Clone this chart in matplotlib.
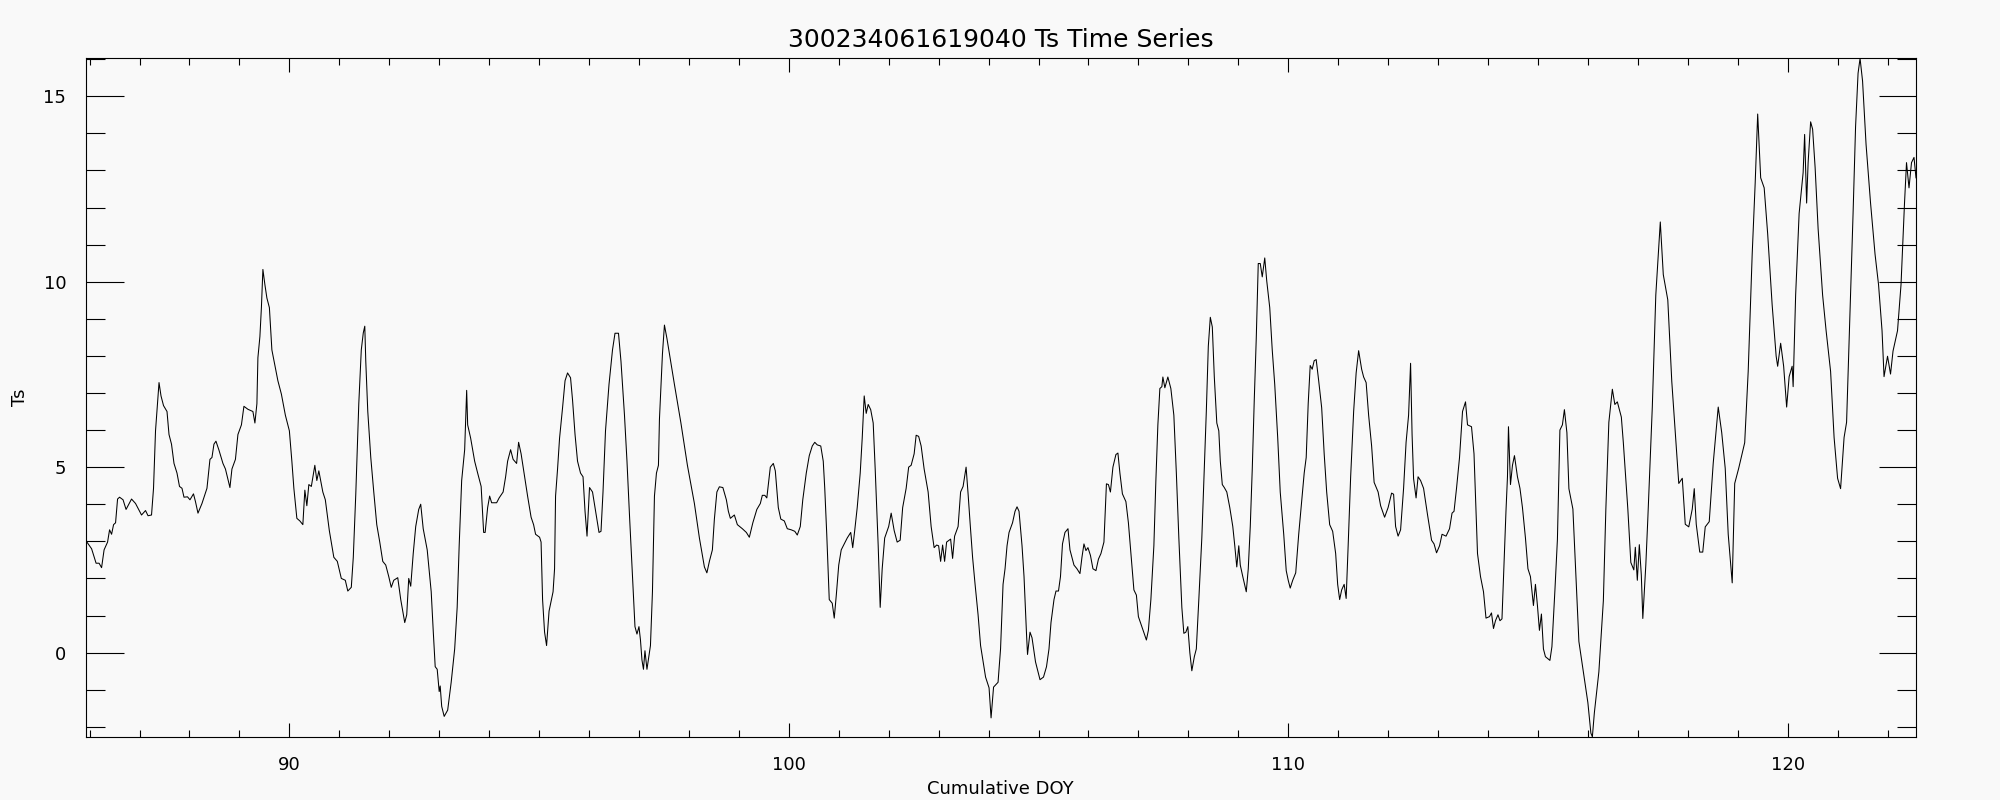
import numpy as np
import matplotlib
matplotlib.use("Agg")
import matplotlib.pyplot as plt
from matplotlib.ticker import MultipleLocator

# Cumulative day of year and Ts
doy = [
    85.92, 86.04, 86.13, 86.19, 86.24, 86.29, 86.36, 86.40, 86.44, 86.48,
    86.52, 86.56, 86.60, 86.67, 86.73, 86.84, 86.92, 87.04, 87.12, 87.17,
    87.24, 87.28, 87.32, 87.36, 87.39, 87.43, 87.48, 87.55, 87.59, 87.64,
    87.69, 87.75, 87.80, 87.85, 87.89, 87.96, 88.01, 88.08, 88.12, 88.17,
    88.25, 88.35, 88.41, 88.45, 88.49, 88.53, 88.59, 88.67, 88.72, 88.81,
    88.85, 88.92, 88.97, 89.04, 89.09, 89.17, 89.27, 89.31, 89.35, 89.37,
    89.41, 89.44, 89.47, 89.51, 89.55, 89.60, 89.65, 89.71, 89.77, 89.84,
    89.92, 90.00, 90.05, 90.09, 90.15, 90.21, 90.27, 90.31, 90.35, 90.39,
    90.44, 90.51, 90.55, 90.59, 90.67, 90.72, 90.80, 90.89, 90.96, 91.04,
    91.12, 91.17, 91.24, 91.28, 91.33, 91.39, 91.44, 91.48, 91.51, 91.53,
    91.57, 91.63, 91.69, 91.75, 91.81, 91.87, 91.93, 91.99, 92.04, 92.09,
    92.17, 92.23, 92.31, 92.35, 92.39, 92.43, 92.48, 92.53, 92.59, 92.63,
    92.68, 92.76, 92.84, 92.88, 92.92, 92.96, 93.00, 93.02, 93.05, 93.10,
    93.17, 93.24, 93.31, 93.36, 93.40, 93.45, 93.51, 93.55, 93.57, 93.63,
    93.71, 93.77, 93.84, 93.89, 93.92, 93.97, 94.01, 94.05, 94.15, 94.20,
    94.28, 94.33, 94.37, 94.43, 94.48, 94.55, 94.59, 94.64, 94.71, 94.77,
    94.84, 94.89, 94.93, 95.01, 95.04, 95.07, 95.11, 95.15, 95.20, 95.28,
    95.31, 95.33, 95.37, 95.41, 95.47, 95.52, 95.57, 95.63, 95.67, 95.72,
    95.77, 95.83, 95.88, 95.92, 95.96, 96.01, 96.07, 96.15, 96.20, 96.24,
    96.28, 96.33, 96.40, 96.47, 96.52, 96.59, 96.64, 96.71, 96.76, 96.81,
    96.87, 96.92, 96.96, 97.00, 97.03, 97.06, 97.09, 97.12, 97.16, 97.23,
    97.27, 97.31, 97.35, 97.39, 97.41, 97.47, 97.51, 97.56, 97.71, 97.84,
    97.97, 98.11, 98.21, 98.31, 98.36, 98.41, 98.47, 98.51, 98.56, 98.61,
    98.68, 98.75, 98.79, 98.83, 98.91, 98.97, 99.07, 99.15, 99.21, 99.28,
    99.36, 99.43, 99.47, 99.52, 99.56, 99.63, 99.69, 99.73, 99.79, 99.84,
    99.91, 99.97, 100.05, 100.12, 100.17, 100.23, 100.28, 100.35, 100.41, 100.47,
    100.52, 100.57, 100.64, 100.69, 100.72, 100.76, 100.81, 100.87, 100.91, 100.95,
    101.00, 101.05, 101.11, 101.17, 101.24, 101.28, 101.32, 101.37, 101.43, 101.47,
    101.51, 101.55, 101.59, 101.64, 101.69, 101.73, 101.79, 101.83, 101.87, 101.92,
    102.00, 102.05, 102.11, 102.17, 102.23, 102.28, 102.35, 102.40, 102.45, 102.51,
    102.55, 102.60, 102.65, 102.71, 102.79, 102.85, 102.91, 102.96, 103.00, 103.04,
    103.08, 103.12, 103.16, 103.21, 103.24, 103.28, 103.32, 103.39, 103.44, 103.49,
    103.55, 103.59, 103.63, 103.68, 103.73, 103.79, 103.84, 103.94, 104.01, 104.05,
    104.10, 104.19, 104.24, 104.29, 104.33, 104.37, 104.41, 104.48, 104.53, 104.57,
    104.61, 104.67, 104.71, 104.76, 104.78, 104.83, 104.87, 104.94, 105.03, 105.10,
    105.16, 105.21, 105.25, 105.31, 105.35, 105.40, 105.44, 105.48, 105.53, 105.59,
    105.63, 105.71, 105.77, 105.83, 105.87, 105.91, 105.95, 105.99, 106.04, 106.09,
    106.15, 106.20, 106.25, 106.31, 106.36, 106.40, 106.44, 106.49, 106.55, 106.59,
    106.63, 106.68, 106.75, 106.80, 106.85, 106.91, 106.96, 107.00, 107.07, 107.12,
    107.16, 107.20, 107.25, 107.31, 107.35, 107.39, 107.43, 107.47, 107.49, 107.53,
    107.59, 107.65, 107.71, 107.76, 107.81, 107.87, 107.91, 107.95, 107.99, 108.03,
    108.07, 108.12, 108.16, 108.21, 108.27, 108.32, 108.36, 108.40, 108.44, 108.48,
    108.52, 108.57, 108.61, 108.64, 108.68, 108.72, 108.77, 108.83, 108.89, 108.93,
    108.97, 109.01, 109.04, 109.09, 109.16, 109.20, 109.24, 109.28, 109.32, 109.36,
    109.40, 109.44, 109.48, 109.53, 109.57, 109.63, 109.68, 109.73, 109.79, 109.84,
    109.91, 109.96, 110.00, 110.04, 110.09, 110.15, 110.21, 110.28, 110.32, 110.36,
    110.40, 110.44, 110.48, 110.52, 110.56, 110.61, 110.67, 110.72, 110.77, 110.83,
    110.89, 110.95, 110.99, 111.03, 111.07, 111.12, 111.16, 111.20, 111.25, 111.31,
    111.36, 111.41, 111.47, 111.51, 111.56, 111.61, 111.67, 111.72, 111.80, 111.85,
    111.93, 112.00, 112.07, 112.11, 112.15, 112.20, 112.25, 112.31, 112.36, 112.41,
    112.45, 112.48, 112.51, 112.56, 112.60, 112.65, 112.71, 112.79, 112.87, 112.92,
    112.97, 113.03, 113.08, 113.16, 113.23, 113.28, 113.32, 113.37, 113.43, 113.49,
    113.55, 113.59, 113.67, 113.72, 113.79, 113.85, 113.91, 113.96, 114.03, 114.07,
    114.11, 114.15, 114.20, 114.24, 114.28, 114.32, 114.36, 114.39, 114.41, 114.44,
    114.45, 114.49, 114.53, 114.59, 114.64, 114.69, 114.75, 114.80, 114.85, 114.91,
    114.95, 114.99, 115.03, 115.07, 115.11, 115.15, 115.24, 115.28, 115.34, 115.39,
    115.44, 115.49, 115.53, 115.58, 115.62, 115.70, 115.82, 115.91, 116.00, 116.06,
    116.09, 116.13, 116.22, 116.31, 116.36, 116.42, 116.49, 116.54, 116.59, 116.67,
    116.71, 116.80, 116.86, 116.92, 116.95, 116.99, 117.03, 117.07, 117.10, 117.16,
    117.20, 117.29, 117.36, 117.45, 117.51, 117.60, 117.68, 117.77, 117.82, 117.89,
    117.95, 118.02, 118.09, 118.13, 118.17, 118.24, 118.30, 118.35, 118.43, 118.51,
    118.61, 118.68, 118.75, 118.81, 118.89, 118.94, 119.02, 119.14, 119.21, 119.29,
    119.35, 119.40, 119.46, 119.53, 119.60, 119.69, 119.77, 119.80, 119.86, 119.92,
    119.98, 120.03, 120.09, 120.11, 120.16, 120.23, 120.31, 120.34, 120.38, 120.41,
    120.46, 120.50, 120.55, 120.61, 120.70, 120.77, 120.86, 120.93, 121.00, 121.06,
    121.13, 121.18, 121.24, 121.31, 121.36, 121.41, 121.45, 121.50, 121.57, 121.66,
    121.75, 121.82, 121.89, 121.93, 122.00, 122.06, 122.11, 122.20, 122.27, 122.34,
    122.38, 122.43, 122.48, 122.53, 122.57,
]

ts = [
    3.03, 2.80, 2.41, 2.41, 2.29, 2.77, 2.98, 3.31, 3.19, 3.45,
    3.50, 4.14, 4.19, 4.12, 3.86, 4.14, 4.02, 3.71, 3.83, 3.69,
    3.71, 4.43, 5.98, 6.71, 7.28, 6.92, 6.66, 6.50, 5.88, 5.62,
    5.10, 4.84, 4.48, 4.43, 4.19, 4.20, 4.12, 4.28, 4.07, 3.76,
    4.02, 4.43, 5.21, 5.26, 5.62, 5.70, 5.46, 5.10, 4.95, 4.45,
    4.95, 5.21, 5.88, 6.14, 6.64, 6.56, 6.50, 6.19, 6.71, 7.95,
    8.52, 9.30, 10.33, 9.92, 9.56, 9.30, 8.16, 7.74, 7.33, 6.97,
    6.40, 5.98, 5.16, 4.43, 3.62, 3.55, 3.45, 4.38, 3.96, 4.53,
    4.48, 5.05, 4.64, 4.90, 4.33, 4.12, 3.29, 2.57, 2.46, 2.00,
    1.95, 1.66, 1.76, 2.57, 4.28, 6.71, 8.16, 8.62, 8.80, 7.85,
    6.50, 5.26, 4.33, 3.45, 2.98, 2.46, 2.36, 2.05, 1.76, 1.95,
    2.02, 1.43, 0.81, 1.02, 2.00, 1.79, 2.67, 3.40, 3.86, 4.00,
    3.34, 2.77, 1.64, 0.60, -0.38, -0.45, -1.05, -0.90, -1.45, -1.72,
    -1.55, -0.80, 0.10, 1.22, 2.88, 4.64, 5.47, 7.07, 6.14, 5.78,
    5.16, 4.84, 4.48, 3.24, 3.24, 3.91, 4.22, 4.04, 4.04, 4.17,
    4.33, 4.74, 5.16, 5.47, 5.21, 5.10, 5.67, 5.36, 4.74, 4.22,
    3.65, 3.45, 3.19, 3.11, 2.98, 1.43, 0.55, 0.19, 1.12, 1.64,
    2.26, 4.22, 4.95, 5.78, 6.60, 7.33, 7.54, 7.41, 6.81, 5.88,
    5.16, 4.84, 4.74, 3.81, 3.14, 4.45, 4.33, 3.65, 3.24, 3.27,
    4.33, 5.98, 7.23, 8.16, 8.61, 8.61, 7.85, 6.40, 5.16, 3.71,
    2.05, 0.70, 0.50, 0.70, 0.34, -0.20, -0.45, 0.05, -0.45, 0.19,
    1.64, 4.22, 4.84, 5.05, 6.29, 8.05, 8.83, 8.47, 7.23, 6.19,
    5.05, 4.02, 3.09, 2.31, 2.15, 2.46, 2.77, 3.60, 4.33, 4.47,
    4.45, 4.12, 3.81, 3.62, 3.71, 3.45, 3.34, 3.24, 3.11, 3.50,
    3.86, 4.02, 4.24, 4.24, 4.17, 5.00, 5.10, 4.90, 3.91, 3.60,
    3.55, 3.34, 3.31, 3.27, 3.17, 3.40, 4.12, 4.84, 5.31, 5.57,
    5.67, 5.60, 5.57, 5.16, 4.43, 3.19, 1.43, 1.33, 0.93, 1.53,
    2.36, 2.77, 2.93, 3.09, 3.24, 2.83, 3.29, 3.91, 4.84, 5.78,
    6.92, 6.45, 6.69, 6.55, 6.19, 4.95, 2.88, 1.22, 2.26, 3.09,
    3.40, 3.76, 3.29, 2.98, 3.03, 3.91, 4.43, 5.00, 5.05, 5.36,
    5.86, 5.83, 5.57, 4.95, 4.33, 3.40, 2.83, 2.90, 2.88, 2.46,
    2.90, 2.46, 2.98, 3.03, 3.06, 2.54, 3.14, 3.40, 4.33, 4.48,
    5.00, 4.28, 3.50, 2.57, 1.84, 1.02, 0.19, -0.66, -0.95, -1.76,
    -0.93, -0.80, 0.10, 1.84, 2.26, 2.88, 3.24, 3.50, 3.81, 3.93,
    3.81, 2.88, 2.05, 0.50, -0.05, 0.55, 0.40, -0.25, -0.73, -0.66,
    -0.38, 0.10, 0.81, 1.43, 1.66, 1.66, 2.05, 2.93, 3.24, 3.34,
    2.77, 2.36, 2.26, 2.13, 2.57, 2.93, 2.75, 2.83, 2.62, 2.26,
    2.21, 2.52, 2.67, 2.98, 4.55, 4.53, 4.33, 5.00, 5.34, 5.38,
    4.84, 4.28, 4.07, 3.50, 2.67, 1.69, 1.55, 0.97, 0.70, 0.50,
    0.34, 0.60, 1.43, 2.88, 4.64, 6.14, 7.12, 7.17, 7.43, 7.14,
    7.43, 7.12, 6.40, 4.84, 3.09, 1.22, 0.52, 0.55, 0.70, 0.00,
    -0.49, -0.11, 0.10, 1.43, 3.09, 4.95, 6.50, 8.26, 9.04, 8.78,
    7.43, 6.19, 5.98, 5.16, 4.53, 4.45, 4.33, 3.91, 3.40, 2.88,
    2.31, 2.88, 2.36, 2.05, 1.64, 2.26, 3.40, 4.95, 6.81, 8.47,
    10.49, 10.49, 10.13, 10.64, 10.02, 9.30, 8.16, 7.23, 5.78, 4.33,
    3.19, 2.21, 1.95, 1.74, 1.95, 2.15, 3.19, 4.22, 4.84, 5.26,
    6.71, 7.74, 7.64, 7.87, 7.90, 7.33, 6.60, 5.36, 4.33, 3.45,
    3.27, 2.67, 1.84, 1.43, 1.69, 1.84, 1.46, 2.88, 4.74, 6.50,
    7.54, 8.14, 7.64, 7.43, 7.28, 6.40, 5.57, 4.59, 4.33, 3.96,
    3.65, 3.91, 4.30, 4.27, 3.40, 3.14, 3.31, 4.43, 5.67, 6.40,
    7.80, 5.88, 4.69, 4.17, 4.74, 4.64, 4.43, 3.71, 3.03, 2.93,
    2.69, 2.88, 3.19, 3.14, 3.34, 3.76, 3.81, 4.43, 5.26, 6.50,
    6.76, 6.14, 6.09, 5.36, 2.67, 2.05, 1.64, 0.93, 0.97, 1.07,
    0.65, 0.86, 1.02, 0.86, 0.91, 2.36, 3.81, 4.74, 6.09, 4.95,
    4.53, 5.05, 5.31, 4.74, 4.43, 3.91, 3.09, 2.26, 2.05, 1.27,
    1.84, 1.27, 0.60, 1.04, 0.10, -0.11, -0.21, 0.16, 1.68, 3.05,
    6.00, 6.14, 6.55, 5.93, 4.42, 3.87, 0.30, -0.52, -1.35, -2.17,
    -2.27, -1.62, -0.52, 1.40, 3.87, 6.21, 7.10, 6.69, 6.76, 6.35,
    5.66, 3.87, 2.43, 2.23, 2.84, 1.95, 2.91, 2.09, 0.92, 2.36,
    3.60, 6.62, 9.64, 11.61, 10.19, 9.51, 7.31, 5.52, 4.56, 4.70,
    3.46, 3.39, 3.87, 4.42, 3.46, 2.71, 2.71, 3.39, 3.53, 5.11,
    6.62, 5.93, 4.97, 3.19, 1.88, 4.56, 4.97, 5.66, 7.58, 10.74,
    12.66, 14.52, 12.80, 12.53, 11.29, 9.37, 7.99, 7.72, 8.34, 7.72,
    6.62, 7.44, 7.72, 7.17, 9.64, 11.84, 12.94, 13.97, 12.12, 13.21,
    14.31, 14.11, 13.08, 11.43, 9.64, 8.68, 7.58, 5.80, 4.70, 4.42,
    5.80, 6.21, 8.82, 11.84, 14.18, 15.62, 16.02, 15.41, 13.70, 12.12,
    10.74, 9.92, 8.68, 7.44, 7.99, 7.51, 8.13, 8.68, 9.92, 12.12,
    13.21, 12.53, 13.21, 13.35, 12.80,
]

title = "300234061619040 Ts Time Series"
xlabel = "Cumulative DOY"
ylabel = "Ts"

bg = "#f9f9f9"
plt.rcParams['font.family'] = ['DejaVu Sans']

fig = plt.figure(figsize=(20, 8), dpi=100, facecolor=bg)
ax = fig.add_axes([0.0428, 0.079, 0.9152, 0.848])
ax.set_facecolor(bg)

ax.plot(doy, ts, color='black', linewidth=0.75)

# exact data range, like IDL xstyle=1 / ystyle=1
ax.set_xlim(min(doy), max(doy))
ax.set_ylim(min(ts), max(ts))

ax.xaxis.set_major_locator(MultipleLocator(10))
ax.xaxis.set_minor_locator(MultipleLocator(1))
ax.yaxis.set_major_locator(MultipleLocator(5))
ax.yaxis.set_minor_locator(MultipleLocator(1))

ax.tick_params(axis='both', which='both', direction='in',
               top=True, right=True, color='black', width=0.8,
               labelsize=13)
ax.tick_params(axis='x', which='major', length=10, pad=14)
ax.tick_params(axis='x', which='minor', length=5)
ax.tick_params(axis='y', which='major', length=27, pad=14)
ax.tick_params(axis='y', which='minor', length=13.5)

for s in ax.spines.values():
    s.set_linewidth(0.8)
    s.set_color('black')

ax.set_title(title, fontsize=18, pad=8)
ax.set_xlabel(xlabel, fontsize=13, labelpad=4)
ax.set_ylabel(ylabel, fontsize=13, labelpad=10)

fig.savefig("out.png", dpi=100, facecolor=bg)
